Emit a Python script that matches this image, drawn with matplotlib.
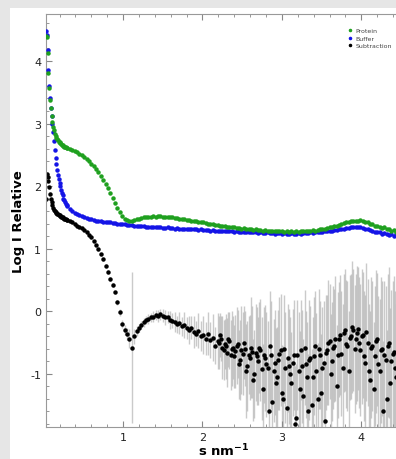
import matplotlib.pyplot as plt
from matplotlib.patches import Rectangle
from matplotlib.ticker import MultipleLocator
import numpy as np

plt.rcParams['axes.unicode_minus'] = False

# scattering vector s (nm^-1)
s = [0.03, 0.04, 0.05, 0.06, 0.07, 0.08, 0.09, 0.10, 0.11, 0.12, 0.13, 0.14, 0.15, 0.16,
     0.17, 0.18, 0.19, 0.20, 0.21, 0.22, 0.23, 0.24, 0.25, 0.26, 0.27, 0.28, 0.29, 0.30,
     0.33, 0.36, 0.39, 0.42, 0.45, 0.48, 0.51, 0.54, 0.57, 0.60,
     0.63, 0.66, 0.69, 0.72, 0.75, 0.78, 0.81, 0.84, 0.87, 0.90,
     0.93, 0.96, 0.99, 1.02, 1.05, 1.08, 1.11, 1.14, 1.17, 1.20,
     1.23, 1.26, 1.29, 1.32, 1.35, 1.38, 1.41, 1.44, 1.47, 1.50,
     1.53, 1.56, 1.59, 1.62, 1.65, 1.68, 1.71, 1.74, 1.77, 1.80,
     1.83, 1.86, 1.89, 1.92, 1.95, 1.98, 2.01, 2.04, 2.07, 2.10,
     2.13, 2.16, 2.19, 2.22, 2.25, 2.28, 2.31, 2.34, 2.37, 2.40,
     2.43, 2.46, 2.49, 2.52, 2.55, 2.58, 2.61, 2.64, 2.67, 2.70,
     2.73, 2.76, 2.79, 2.82, 2.85, 2.88, 2.91, 2.94, 2.97, 3.00,
     3.03, 3.06, 3.09, 3.12, 3.15, 3.18, 3.21, 3.24, 3.27, 3.30,
     3.33, 3.36, 3.39, 3.42, 3.45, 3.48, 3.51, 3.54, 3.57, 3.60,
     3.63, 3.66, 3.69, 3.72, 3.75, 3.78, 3.81, 3.84, 3.87, 3.90,
     3.93, 3.96, 3.99, 4.02, 4.05, 4.08, 4.11, 4.14, 4.17, 4.20,
     4.23, 4.26, 4.29, 4.32, 4.35, 4.38, 4.41, 4.44]

protein = [4.40, 4.38, 4.12, 3.80, 3.56, 3.38, 3.24, 3.12, 3.02, 2.95, 2.89, 2.84, 2.80, 2.77,
           2.75, 2.73, 2.71, 2.70, 2.69, 2.67, 2.66, 2.65, 2.64, 2.63, 2.63, 2.62, 2.61, 2.61,
           2.59, 2.58, 2.56, 2.54, 2.52, 2.49, 2.46, 2.43, 2.40, 2.36,
           2.32, 2.27, 2.22, 2.16, 2.10, 2.04, 1.97, 1.89, 1.81, 1.73,
           1.65, 1.58, 1.52, 1.48, 1.46, 1.44, 1.45, 1.46, 1.47, 1.48,
           1.49, 1.50, 1.50, 1.51, 1.51, 1.52, 1.51, 1.52, 1.52, 1.51,
           1.51, 1.50, 1.51, 1.50, 1.49, 1.49, 1.48, 1.48, 1.47, 1.46,
           1.46, 1.45, 1.44, 1.44, 1.43, 1.42, 1.42, 1.41, 1.40, 1.40,
           1.39, 1.38, 1.38, 1.37, 1.37, 1.36, 1.35, 1.35, 1.34, 1.34,
           1.33, 1.33, 1.32, 1.33, 1.32, 1.31, 1.31, 1.30, 1.31, 1.30,
           1.30, 1.29, 1.30, 1.29, 1.29, 1.28, 1.29, 1.28, 1.28, 1.28,
           1.27, 1.28, 1.27, 1.28, 1.27, 1.28, 1.27, 1.28, 1.28, 1.29,
           1.28, 1.29, 1.30, 1.29, 1.30, 1.31, 1.31, 1.32, 1.33, 1.34,
           1.35, 1.36, 1.37, 1.38, 1.40, 1.41, 1.42, 1.43, 1.44, 1.45,
           1.44, 1.45, 1.46, 1.44, 1.43, 1.42, 1.40, 1.39, 1.37, 1.36,
           1.35, 1.33, 1.34, 1.31, 1.32, 1.28, 1.30, 1.27]

buffer = [4.48, 4.42, 4.18, 3.85, 3.60, 3.40, 3.25, 3.12, 2.99, 2.86, 2.72, 2.58, 2.45, 2.35,
          2.26, 2.18, 2.11, 2.05, 2.00, 1.94, 1.89, 1.85, 1.80, 1.77, 1.75, 1.72, 1.70, 1.68,
          1.63, 1.60, 1.57, 1.55, 1.53, 1.52, 1.50, 1.49, 1.48, 1.47,
          1.46, 1.45, 1.45, 1.44, 1.43, 1.43, 1.42, 1.42, 1.41, 1.41,
          1.40, 1.40, 1.39, 1.39, 1.38, 1.38, 1.38, 1.37, 1.37, 1.36,
          1.36, 1.36, 1.35, 1.35, 1.35, 1.34, 1.35, 1.34, 1.34, 1.33,
          1.33, 1.34, 1.33, 1.33, 1.32, 1.33, 1.32, 1.32, 1.32, 1.31,
          1.32, 1.31, 1.31, 1.31, 1.30, 1.31, 1.30, 1.30, 1.30, 1.29,
          1.30, 1.29, 1.29, 1.29, 1.28, 1.29, 1.28, 1.28, 1.28, 1.27,
          1.28, 1.27, 1.27, 1.27, 1.26, 1.27, 1.26, 1.26, 1.26, 1.25,
          1.26, 1.25, 1.25, 1.26, 1.25, 1.25, 1.24, 1.25, 1.25, 1.24,
          1.25, 1.24, 1.24, 1.25, 1.24, 1.24, 1.25, 1.24, 1.25, 1.25,
          1.25, 1.26, 1.25, 1.26, 1.26, 1.27, 1.27, 1.28, 1.28, 1.29,
          1.29, 1.30, 1.30, 1.31, 1.32, 1.32, 1.33, 1.33, 1.34, 1.34,
          1.35, 1.34, 1.35, 1.33, 1.32, 1.31, 1.30, 1.29, 1.27, 1.27,
          1.26, 1.24, 1.25, 1.23, 1.22, 1.24, 1.21, 1.23]

subtraction = [1.80, 2.20, 2.15, 2.08, 1.98, 1.88, 1.80, 1.74, 1.69, 1.65, 1.62, 1.60, 1.58, 1.57,
               1.56, 1.55, 1.54, 1.53, 1.52, 1.51, 1.50, 1.50, 1.49, 1.48, 1.48, 1.47, 1.46, 1.46,
               1.44, 1.42, 1.40, 1.37, 1.35, 1.33, 1.30, 1.26, 1.22, 1.18,
               1.12, 1.06, 0.99, 0.91, 0.83, 0.73, 0.63, 0.52, 0.42, 0.30,
               0.14, -0.02, -0.20, -0.30, -0.36, -0.44, -0.58, -0.40, -0.32, -0.27,
               -0.22, -0.18, -0.14, -0.12, -0.10, -0.09, -0.06, -0.08, -0.05, -0.07,
               -0.10, -0.09, -0.14, -0.15, -0.17, -0.21, -0.19, -0.24, -0.22, -0.27,
               -0.30, -0.26, -0.33, -0.36, -0.31, -0.40, -0.38, -0.44, -0.36, -0.46,
               -0.42, -0.55, -0.48, -0.38, -0.58, -0.52, -0.66, -0.47, -0.60, -0.72,
               -0.55, -0.85, -0.62, -0.50, -0.95, -0.70, -0.58, -1.10, -0.66, -0.80,
               -0.62, -1.25, -0.75, -0.90, -0.55, -1.45, -0.82, -1.05, -0.68, -1.30,
               -0.60, -1.55, -0.88, -1.15, -0.70, -1.70, -0.95, -0.62, -1.35, -0.85,
               -1.60, -0.75, -1.05, -0.55, -1.40, -0.70, -0.90, -1.75, -0.62, -0.48,
               -0.80, -0.55, -1.20, -0.45, -0.68, -0.35, -0.52, -0.95, -0.40, -0.30,
               -0.45, -0.28, -0.62, -0.38, -0.82, -0.50, -1.10, -0.55, -0.72, -0.45,
               -0.95, -0.60, -0.70, -1.40, -0.50, -0.80, -0.65, -1.05]

sub_err = [0.02, 0.02, 0.02, 0.02, 0.02, 0.02, 0.02, 0.02, 0.02, 0.02, 0.02, 0.02, 0.02, 0.02,
           0.02, 0.02, 0.02, 0.02, 0.02, 0.02, 0.02, 0.02, 0.02, 0.02, 0.02, 0.02, 0.02, 0.02,
           0.02, 0.02, 0.02, 0.02, 0.02, 0.02, 0.02, 0.02, 0.02, 0.02,
           0.02, 0.02, 0.02, 0.02, 0.03, 0.03, 0.03, 0.03, 0.03, 0.03,
           0.04, 0.05, 0.06, 0.08, 0.10, 0.15, 1.20, 0.12, 0.08, 0.06,
           0.06, 0.07, 0.06, 0.08, 0.07, 0.09, 0.08, 0.10, 0.09, 0.11,
           0.12, 0.10, 0.14, 0.12, 0.16, 0.13, 0.18, 0.15, 0.20, 0.17,
           0.22, 0.18, 0.25, 0.20, 0.28, 0.24, 0.30, 0.26, 0.34, 0.28,
           0.38, 0.30, 0.45, 0.35, 0.50, 0.40, 0.55, 0.45, 0.60, 0.50,
           0.62, 0.55, 0.70, 0.58, 0.75, 0.62, 0.80, 0.66, 0.78, 0.70,
           0.82, 0.72, 0.85, 0.75, 0.88, 0.78, 0.84, 0.80, 0.90, 0.76,
           0.86, 0.80, 0.92, 0.82, 0.88, 0.85, 0.94, 0.80, 0.90, 0.86,
           0.92, 0.84, 0.95, 0.88, 0.90, 0.86, 0.96, 0.90, 0.88, 0.92,
           0.95, 0.90, 0.98, 0.92, 1.00, 0.94, 1.02, 0.96, 1.00, 0.98,
           1.04, 0.98, 1.06, 1.00, 1.08, 1.02, 1.10, 1.04, 1.12, 1.06,
           1.14, 1.08, 1.18, 1.10, 1.20, 1.14, 1.22, 1.16]

# extra subtraction samples in the noisy high-s region
s_hi = [2.205, 2.235, 2.265, 2.295, 2.325, 2.355, 2.385, 2.415, 2.445, 2.475,
        2.505, 2.535, 2.565, 2.595, 2.625, 2.655, 2.685, 2.715, 2.745, 2.775,
        2.805, 2.835, 2.865, 2.895, 2.925, 2.955, 2.985, 3.015, 3.045, 3.075,
        3.105, 3.135, 3.165, 3.195, 3.225, 3.255, 3.285, 3.315, 3.345, 3.375,
        3.405, 3.435, 3.465, 3.495, 3.525, 3.555, 3.585, 3.615, 3.645, 3.675,
        3.705, 3.735, 3.765, 3.795, 3.825, 3.855, 3.885, 3.915, 3.945, 3.975,
        4.005, 4.035, 4.065, 4.095, 4.125, 4.155, 4.185, 4.215, 4.245, 4.275,
        4.305, 4.335, 4.365, 4.395, 4.425]

sub_hi = [-0.50, -0.44, -0.62, -0.56, -0.45, -0.70, -0.58, -0.64, -0.52, -0.78,
          -0.68, -0.60, -0.88, -0.74, -0.65, -1.00, -0.72, -0.58, -0.92, -0.70,
          -0.85, -1.60, -0.70, -0.95, -1.15, -0.78, -0.62, -1.40, -0.90, -0.75,
          -1.00, -0.82, -1.80, -0.70, -1.25, -0.88, -0.58, -1.05, -0.78, -1.50,
          -0.72, -0.95, -0.60, -1.30, -0.82, -0.66, -0.50, -1.00, -0.58, -0.44,
          -0.70, -0.38, -0.90, -0.30, -0.55, -0.42, -0.25, -0.60, -0.35, -0.50,
          -0.40, -0.72, -0.33, -0.95, -0.58, -1.25, -0.48, -0.85, -0.62, -1.60,
          -0.78, -0.55, -1.15, -0.68, -0.90]

err_hi = [0.42, 0.36, 0.48, 0.52, 0.44, 0.56, 0.50, 0.58, 0.54, 0.64,
          0.66, 0.60, 0.72, 0.68, 0.74, 0.70, 0.78, 0.72, 0.82, 0.76,
          0.84, 0.78, 0.86, 0.82, 0.88, 0.80, 0.90, 0.84, 0.88, 0.86,
          0.90, 0.86, 0.92, 0.88, 0.94, 0.90, 0.92, 0.88, 0.96, 0.90,
          0.94, 0.92, 0.96, 0.94, 0.98, 0.92, 1.00, 0.96, 0.98, 1.00,
          1.00, 0.96, 1.02, 0.98, 1.04, 1.00, 1.06, 1.02, 1.08, 1.04,
          1.08, 1.04, 1.10, 1.06, 1.12, 1.08, 1.14, 1.10, 1.16, 1.12,
          1.18, 1.14, 1.20, 1.16, 1.22]

fig = plt.figure(figsize=(3.96, 4.6), dpi=100, facecolor='#e6e6e6')
fig.patches.append(Rectangle((10/396, 0), 1, 451/460, transform=fig.transFigure,
                             facecolor='white', edgecolor='none', zorder=-10))
ax = fig.add_axes([46/396, 32/460, 355/396, 413/460])

ax.errorbar(s, subtraction, yerr=sub_err, fmt='none', ecolor='#b4b4b4',
            elinewidth=1, alpha=0.7, zorder=1)
ax.errorbar(s_hi, sub_hi, yerr=err_hi, fmt='none', ecolor='#b4b4b4',
            elinewidth=1, alpha=0.7, zorder=1)
ax.plot(s_hi, sub_hi, 'o', color='black', markersize=2.2, zorder=2)
ax.plot(s, subtraction, 'o', color='black', markersize=2.2, label='Subtraction', zorder=2)
ax.plot(s, buffer, 'o', color='#1414e6', markersize=2.2, label='Buffer', zorder=3)
ax.plot(s, protein, 'o', color='#1fa01f', markersize=2.2, label='Protein', zorder=4)

ax.set_xlim(0.03, 4.5)
ax.set_ylim(-1.85, 4.75)
ax.xaxis.set_major_locator(MultipleLocator(1))
ax.xaxis.set_minor_locator(MultipleLocator(0.2))
ax.yaxis.set_major_locator(MultipleLocator(1))
ax.yaxis.set_minor_locator(MultipleLocator(0.2))
ax.tick_params(which='both', direction='in', top=True, right=False,
               colors='#888888', labelcolor='#222222', labelsize=8)
ax.tick_params(which='major', length=4)
ax.tick_params(which='minor', length=2)
for sp in ax.spines.values():
    sp.set_color('#999999')

ax.set_xlabel('s nm$^{\\mathbf{-1}}$', fontsize=9.5, fontweight='bold', labelpad=0)
ax.set_ylabel('Log I Relative', fontsize=9.5, fontweight='bold', labelpad=4)

h, l = ax.get_legend_handles_labels()
ax.legend(h[::-1], l[::-1], loc='upper right', bbox_to_anchor=(0.99, 0.98),
          frameon=False, fontsize=4.5, markerscale=0.7, handlelength=0.6,
          handletextpad=0.6, labelspacing=0.35, labelcolor='#444444')

fig.savefig('out.png', dpi=100)
